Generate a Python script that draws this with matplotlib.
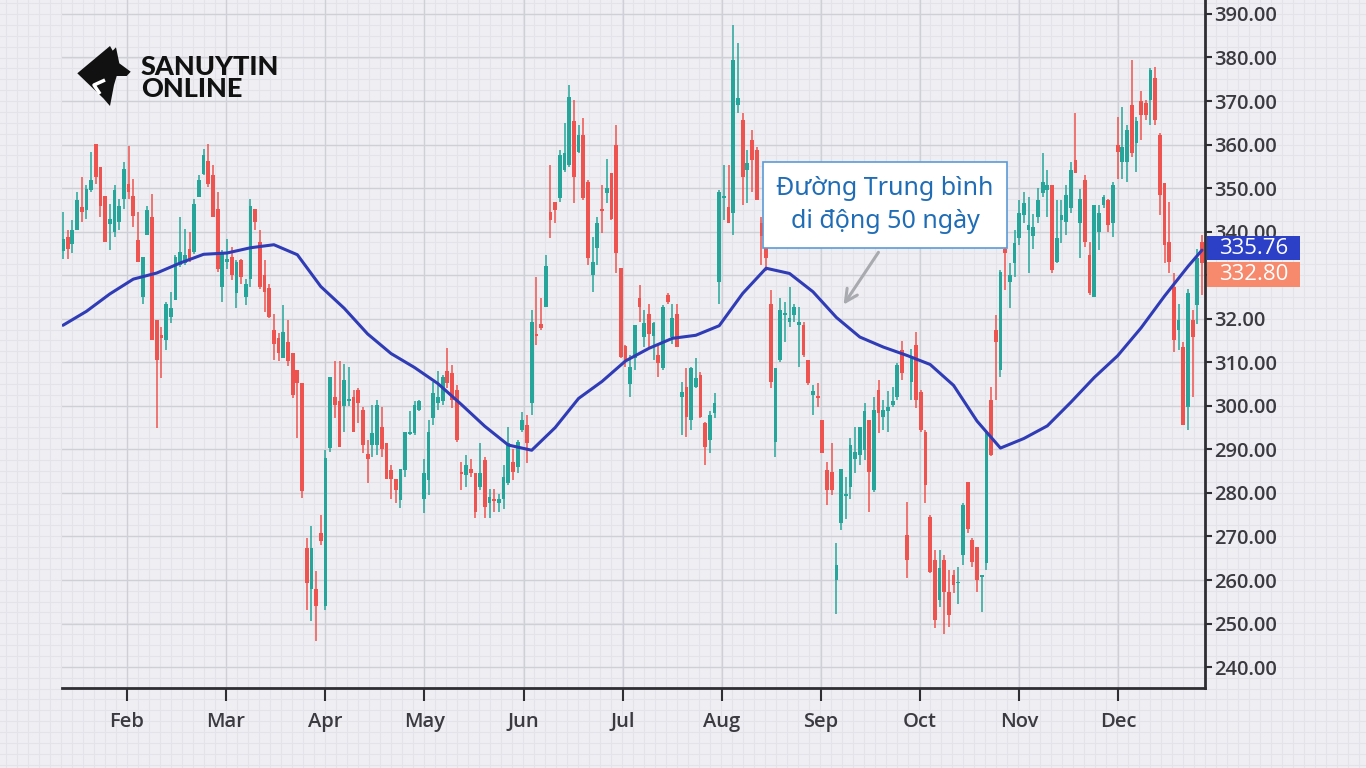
import numpy as np
import matplotlib.pyplot as plt
from matplotlib.patches import Rectangle, Polygon
from matplotlib.transforms import blended_transform_factory

plt.rcParams['font.family'] = ['Open Sans', 'DejaVu Sans']

# ---- data (one candle per trading session) ----
opens = [
    335.6, 338.8, 337.2, 340.3, 345.6, 344.9, 349.5, 360.1, 354.8, 348.3,
    341.8, 340.0, 342.2, 347.6, 351.0, 348.3, 338.0, 325.0, 339.2, 343.4,
    319.7, 316.3, 315.1, 320.5, 324.3, 332.3, 332.7, 336.1, 335.3, 347.9,
    353.3, 356.3, 352.9, 345.3, 327.3, 333.0, 334.2, 325.8, 333.4, 325.0,
    329.2, 345.3, 337.6, 330.0, 327.0, 317.4, 315.5, 310.9, 314.7, 312.1,
    308.2, 305.2, 267.4, 257.9, 257.9, 270.8, 254.0, 290.3, 302.1, 301.0,
    300.0, 301.0, 302.1, 303.6, 299.0, 289.0, 291.0, 291.0, 295.2, 291.4,
    285.2, 283.3, 278.4, 285.2, 293.6, 293.7, 299.0, 278.7, 283.0, 297.1,
    300.6, 301.0, 307.9, 307.5, 303.6, 284.9, 284.1, 285.6, 284.5, 281.4,
    287.5, 277.6, 278.6, 277.6, 278.7, 282.2, 287.2, 286.0, 294.4, 295.6,
    300.6, 316.5, 318.9, 322.8, 344.6, 346.9, 347.7, 354.2, 355.3, 365.3,
    358.4, 362.2, 351.5, 330.0, 336.2, 345.2, 348.8, 353.4, 359.9, 331.6,
    313.7, 305.0, 311.0, 324.7, 315.9, 321.2, 316.0, 311.7, 308.6, 325.5,
    315.9, 321.2, 302.1, 304.4, 296.7, 304.4, 307.1, 296.0, 292.1, 298.3,
    328.5, 347.8, 345.7, 344.2, 369.1, 365.6, 354.2, 361.0, 358.8, 341.9,
    340.0, 323.5, 291.8, 310.5, 320.9, 319.3, 320.9, 318.6, 318.6, 310.5,
    302.5, 302.3, 296.7, 285.3, 284.9, 260.0, 273.0, 279.3, 281.4, 287.9,
    288.7, 289.9, 296.7, 280.7, 303.6, 297.5, 298.7, 300.2, 302.1, 312.8,
    270.3, 305.5, 314.0, 303.2, 294.0, 274.5, 264.6, 255.4, 264.6, 257.3,
    261.1, 259.2, 265.7, 282.6, 269.2, 267.6, 260.7, 263.8, 301.3, 317.4,
    308.2, 336.0, 328.5, 332.7, 338.5, 343.8, 340.4, 339.0, 343.4, 348.8,
    349.6, 350.7, 333.1, 342.7, 342.3, 345.4, 356.5, 341.9, 351.9, 334.6,
    325.1, 340.0, 346.1, 347.3, 341.9, 359.9, 356.1, 356.1, 369.1, 360.3,
    369.9, 369.5, 370.2, 375.2, 362.2, 351.1, 337.7, 327.4, 317.4, 313.6,
    299.8, 319.7, 323.1, 337.7,
]
highs = [
    344.5, 340.3, 342.6, 349.1, 352.5, 350.6, 358.2, 360.1, 354.8, 348.3,
    346.4, 350.6, 347.6, 355.9, 359.7, 352.2, 344.5, 334.2, 346.0, 348.7,
    319.7, 318.2, 323.9, 326.2, 334.6, 343.4, 340.7, 339.9, 347.6, 353.0,
    359.0, 360.1, 355.2, 349.1, 335.7, 338.4, 336.5, 333.4, 333.8, 329.2,
    347.6, 345.3, 340.3, 333.4, 328.0, 321.2, 316.7, 323.1, 319.7, 312.1,
    308.2, 305.2, 269.7, 272.4, 262.1, 275.0, 289.9, 306.7, 310.2, 310.2,
    309.5, 309.0, 303.6, 304.0, 299.8, 292.1, 300.2, 301.3, 299.8, 291.4,
    286.4, 283.3, 285.6, 294.1, 298.7, 301.0, 301.3, 287.9, 296.7, 305.5,
    307.9, 307.1, 313.2, 309.4, 304.8, 287.1, 288.7, 287.9, 284.5, 291.4,
    288.3, 281.0, 281.0, 279.8, 286.4, 295.2, 290.2, 292.1, 298.6, 297.9,
    322.0, 329.7, 324.7, 334.6, 355.3, 346.9, 358.8, 364.9, 373.7, 370.2,
    364.5, 366.0, 351.9, 338.8, 343.4, 350.7, 356.8, 353.4, 364.5, 331.6,
    314.0, 311.7, 318.6, 327.8, 322.0, 323.5, 319.3, 314.0, 323.1, 325.9,
    323.5, 323.5, 305.5, 308.6, 309.0, 310.9, 307.8, 296.4, 298.7, 302.9,
    349.6, 355.3, 355.3, 387.5, 383.3, 367.2, 358.8, 363.3, 359.5, 343.4,
    346.0, 326.6, 308.6, 324.7, 323.9, 327.4, 323.5, 322.8, 319.3, 310.5,
    304.8, 305.2, 296.7, 287.2, 291.4, 268.4, 285.6, 283.7, 292.5, 295.2,
    295.2, 300.6, 296.7, 302.1, 305.9, 301.3, 303.3, 304.4, 309.8, 315.0,
    278.0, 313.0, 317.0, 303.6, 294.4, 274.9, 267.0, 266.8, 265.7, 262.3,
    262.2, 263.0, 277.6, 282.6, 269.6, 267.6, 261.2, 294.4, 304.4, 320.9,
    331.2, 337.3, 332.7, 340.4, 347.3, 349.0, 348.0, 344.0, 350.0, 358.0,
    354.2, 350.7, 347.3, 347.3, 350.7, 356.1, 367.2, 349.9, 353.0, 337.7,
    346.1, 346.1, 348.4, 347.6, 351.5, 366.4, 368.7, 364.5, 379.4, 366.4,
    372.2, 370.2, 377.5, 377.9, 362.6, 351.1, 346.9, 330.4, 323.5, 314.7,
    326.9, 322.0, 336.1, 339.2,
]
lows = [
    333.8, 333.8, 335.0, 340.3, 342.2, 343.0, 349.1, 351.0, 343.4, 337.6,
    335.8, 338.8, 340.3, 345.3, 347.6, 341.0, 333.0, 323.5, 339.2, 315.1,
    294.9, 306.5, 312.8, 319.0, 324.3, 331.9, 332.3, 333.0, 334.9, 347.9,
    352.9, 350.2, 343.4, 330.7, 323.9, 331.5, 328.8, 322.4, 328.0, 323.1,
    327.3, 340.3, 326.9, 321.6, 320.1, 310.5, 310.2, 310.9, 309.1, 301.7,
    292.6, 278.9, 253.2, 250.6, 246.1, 268.1, 253.2, 289.5, 297.1, 290.6,
    294.0, 300.0, 294.1, 296.0, 289.1, 282.2, 288.3, 288.7, 288.3, 283.3,
    278.7, 277.6, 276.5, 283.7, 293.3, 293.3, 298.7, 275.3, 279.5, 295.6,
    299.0, 300.2, 304.0, 299.4, 291.8, 280.7, 281.4, 283.7, 274.2, 280.7,
    274.3, 274.3, 275.6, 275.6, 276.4, 281.8, 283.0, 284.5, 294.0, 286.8,
    297.9, 314.0, 317.4, 322.8, 338.6, 341.9, 346.9, 353.8, 354.9, 346.5,
    358.0, 347.3, 332.3, 326.2, 332.3, 339.6, 346.5, 342.7, 330.4, 310.9,
    309.0, 302.0, 308.3, 319.3, 313.6, 313.6, 310.5, 306.7, 308.3, 323.5,
    314.3, 313.6, 293.3, 292.9, 294.4, 304.0, 297.1, 286.4, 289.1, 297.1,
    323.5, 342.7, 341.9, 339.2, 367.2, 346.1, 346.5, 349.2, 347.3, 332.3,
    331.0, 304.0, 288.3, 310.1, 314.7, 318.2, 319.3, 309.0, 311.3, 304.8,
    297.9, 299.8, 289.1, 277.2, 279.5, 252.3, 271.5, 274.1, 278.7, 284.5,
    286.4, 287.6, 275.7, 280.3, 293.7, 294.4, 294.1, 299.8, 301.3, 306.0,
    260.4, 301.3, 299.4, 294.0, 277.6, 261.5, 249.0, 253.8, 247.7, 249.3,
    257.0, 254.6, 263.4, 270.7, 263.0, 257.3, 252.7, 262.3, 288.4, 301.3,
    306.7, 326.6, 322.4, 329.7, 336.9, 342.0, 330.4, 336.0, 342.0, 348.0,
    343.4, 330.4, 332.7, 337.3, 339.2, 344.2, 353.4, 333.9, 336.5, 325.4,
    325.1, 335.8, 345.4, 340.0, 338.8, 352.2, 352.2, 351.5, 357.2, 353.8,
    361.0, 365.6, 364.5, 364.5, 343.8, 332.7, 330.4, 312.4, 312.8, 295.6,
    294.4, 302.1, 318.9, 325.4,
]
closes = [
    338.3, 336.1, 340.3, 347.2, 344.5, 349.8, 351.8, 352.5, 346.0, 337.6,
    343.0, 349.5, 346.0, 354.4, 349.1, 343.7, 333.0, 334.2, 344.9, 315.1,
    310.5, 315.5, 323.5, 322.4, 334.2, 335.3, 334.6, 333.4, 346.4, 351.8,
    357.5, 351.0, 343.4, 331.5, 335.3, 333.8, 330.0, 333.0, 329.6, 328.0,
    346.0, 342.2, 327.3, 326.2, 320.5, 314.3, 312.1, 317.0, 310.2, 302.5,
    305.2, 280.4, 259.4, 267.4, 254.0, 268.9, 288.0, 306.7, 300.2, 290.6,
    306.0, 301.5, 294.1, 300.6, 291.0, 287.7, 293.7, 300.2, 290.2, 283.3,
    283.3, 280.7, 285.6, 294.1, 293.9, 300.2, 301.0, 284.5, 294.1, 302.9,
    302.1, 306.7, 305.2, 301.3, 292.1, 284.3, 286.4, 284.5, 275.7, 284.5,
    276.8, 279.1, 278.2, 278.7, 283.7, 291.4, 284.9, 291.8, 296.7, 291.4,
    319.3, 316.1, 317.8, 332.0, 342.7, 345.0, 357.6, 358.0, 371.0, 352.6,
    362.2, 347.7, 333.9, 333.1, 341.9, 344.8, 350.0, 343.0, 335.0, 311.3,
    310.5, 309.0, 318.5, 322.8, 319.0, 316.6, 319.0, 309.8, 322.8, 323.9,
    320.1, 313.6, 303.2, 297.5, 308.6, 306.3, 297.5, 290.6, 297.9, 300.6,
    349.2, 348.2, 341.9, 379.4, 370.6, 352.6, 355.7, 356.5, 347.3, 338.9,
    334.0, 305.5, 308.6, 322.0, 321.2, 320.1, 322.8, 319.3, 311.7, 305.2,
    303.3, 301.9, 289.1, 280.7, 280.7, 263.4, 285.6, 279.7, 291.0, 289.5,
    295.2, 298.7, 284.9, 299.0, 298.3, 299.0, 299.8, 301.0, 309.4, 307.5,
    264.6, 310.9, 301.3, 294.4, 281.8, 261.9, 250.8, 262.7, 257.3, 252.0,
    258.8, 259.6, 277.2, 271.8, 264.2, 260.0, 261.0, 294.0, 288.7, 314.7,
    330.8, 335.2, 330.0, 337.3, 344.2, 346.5, 341.5, 341.0, 347.3, 351.5,
    350.7, 331.2, 338.5, 343.8, 348.4, 354.2, 353.4, 347.6, 337.7, 325.8,
    346.1, 344.2, 348.0, 341.5, 350.7, 358.4, 359.5, 363.4, 358.0, 365.3,
    366.8, 366.8, 377.1, 365.6, 348.4, 336.9, 333.1, 315.1, 319.7, 295.6,
    325.8, 315.9, 333.9, 332.8,
]

# 50-day moving average, read at every 5th session (plus the last one)
ma_days = list(range(0, 241, 5)) + [243]
ma_values = [
    318.5, 321.7, 325.7, 329.1, 330.5, 332.8, 334.8, 335.1, 336.3, 337.0,
    334.7, 327.4, 322.4, 316.5, 312.0, 308.8, 305.1, 300.3, 295.3, 291.0,
    289.8, 295.0, 301.7, 305.6, 310.3, 313.2, 315.5, 316.2, 318.4, 325.8,
    331.6, 330.4, 326.2, 320.3, 315.8, 313.5, 311.6, 309.5, 304.7, 296.5,
    290.3, 292.5, 295.4, 300.8, 306.5, 311.5, 317.9, 325.2, 332.0, 335.76,
]

months = ['Feb', 'Mar', 'Apr', 'May', 'Jun', 'Jul', 'Aug', 'Sep', 'Oct', 'Nov', 'Dec']
first_month_pos = 13.65
month_len = 21.15

price_ticks = [240, 250, 260, 270, 280, 290, 300, 310, 320, 330, 340, 350, 360, 370, 380, 390]
# 330.00 sits behind the price tags in the original, so it is left blank
price_labels = ['240.00', '250.00', '260.00', '270.00', '280.00', '290.00', '300.00',
                '310.00', '32.00', '', '340.00', '350.00', '360.00', '370.00',
                '380.00', '390.00']

UP = '#26a69a'
DOWN = '#ef5350'

W, H = 1366, 768
fig = plt.figure(figsize=(13.66, 7.68), dpi=100)
fig.patch.set_facecolor('#efeff3')

# graph paper in the background
bg = fig.add_axes([0, 0, 1, 1], zorder=0)
bg.set_xlim(0, W)
bg.set_ylim(H, 0)
bg.axis('off')
for yy in np.arange(14 - 10.88 * 2, H, 10.88):
    bg.axhline(yy, color='#e3e3e9', lw=0.8)
for xx in np.arange(127 - 11 * 12, W, 11):
    bg.axvline(xx, color='#e3e3e9', lw=0.8)

# main chart
ax = fig.add_axes([62 / W, 1 - 688 / H, (1205 - 62) / W, 688 / H], zorder=1)
ax.patch.set_alpha(0)

o = np.array(opens)
c = np.array(closes)
h = np.maximum(np.array(highs), np.maximum(o, c))
l = np.minimum(np.array(lows), np.minimum(o, c))
x = np.arange(len(o))
cols = np.where(c >= o, UP, DOWN)

ax.vlines(x, l, h, colors=cols, lw=1.1, zorder=3)
ax.bar(x, np.maximum(np.abs(c - o), 0.35), bottom=np.minimum(o, c),
       width=0.8, color=cols, linewidth=0, zorder=4)

ax.plot(ma_days, ma_values, color='#2f3cb6', lw=2.2, zorder=5,
        solid_joinstyle='round', solid_capstyle='round')

ax.set_xlim(-0.21, 243.64)
ax.set_ylim(235.2, 393.2)

ax.yaxis.tick_right()
ax.set_yticks(price_ticks)
ax.set_yticklabels(price_labels)
month_pos = first_month_pos + month_len * np.arange(len(months))
ax.set_xticks(month_pos)
ax.set_xticklabels(months)

ax.tick_params(axis='y', which='major', direction='out', length=5, width=1.5,
               color='#2e2e33', pad=1.5, labelsize=14.5, labelcolor='#3a3a40')
ax.tick_params(axis='x', which='major', direction='out', length=9, width=1.5,
               color='#2e2e33', pad=8, labelsize=14.5, labelcolor='#3a3a40')
for lab in ax.get_xticklabels() + ax.get_yticklabels():
    lab.set_fontweight('semibold')

for side in ['left', 'top']:
    ax.spines[side].set_visible(False)
for side in ['right', 'bottom']:
    ax.spines[side].set_color('#2e2e33')
    ax.spines[side].set_linewidth(2)

ax.grid(True, color='#cfcfd7', lw=1.0, zorder=0)
ax.set_axisbelow(True)

# price tags on the right axis
trans = blended_transform_factory(ax.transAxes, ax.transData)
ma_last = ma_values[-1]
close_last = closes[-1]
tag_x, tag_w = 1.0017, 0.0814
blue_bottom = ma_last - 2.3
ax.add_patch(Rectangle((tag_x, blue_bottom), tag_w, 5.5, transform=trans,
                       clip_on=False, facecolor='#2b40c6', edgecolor='none', zorder=6))
ax.text(tag_x + tag_w / 2, blue_bottom + 2.75, f'{ma_last:.2f}', transform=trans,
        ha='center', va='center', color='white', fontsize=16, zorder=7)
red_top = blue_bottom - 0.4
ax.add_patch(Rectangle((tag_x, red_top - 5.7), tag_w, 5.7, transform=trans,
                       clip_on=False, facecolor='#f7896c', edgecolor='none', zorder=6))
ax.text(tag_x + tag_w / 2, red_top - 2.85, f'{close_last:.2f}', transform=trans,
        ha='center', va='center', color='white', fontsize=16, zorder=7)

# overlay: annotation and logo (pixel coordinates)
fg = fig.add_axes([0, 0, 1, 1], zorder=2)
fg.set_xlim(0, W)
fg.set_ylim(H, 0)
fg.axis('off')

fg.annotate('', xy=(842, 307), xytext=(880, 250),
            arrowprops=dict(arrowstyle='->', color='#a9a9b0', lw=2.2, mutation_scale=22))
fg.text(885, 205, 'Đường Trung bình\ndi động 50 ngày', ha='center', va='center',
        fontsize=18, color='#1f6db6', linespacing=1.4, family=['Noto Sans', 'DejaVu Sans'],
        bbox=dict(boxstyle='square,pad=0.55', fc='white', ec='#5b9bd5', lw=1.2))

logo = [(77.3, 73.3), (110.0, 46.0), (112.7, 50.7), (116.0, 47.3), (119.3, 63.3),
        (130.7, 71.7), (126.7, 76.0), (116.7, 76.0), (114.0, 85.0), (110.0, 106.0),
        (103.3, 98.3)]
fg.add_patch(Polygon(logo, closed=True, facecolor='#111111', edgecolor='none'))
fg.plot([100, 94, 105], [94, 85, 80], color='white', lw=2.5, solid_capstyle='butt')
fg.text(141, 75, 'SANUYTIN', fontsize=19.5, fontweight='black', family=['Lato', 'DejaVu Sans'],
        color='#111111', va='baseline')
fg.text(141, 97, 'ONLINE', fontsize=19.5, fontweight='black', family=['Lato', 'DejaVu Sans'],
        color='#111111', va='baseline')

fig.savefig('out.png', dpi=100, facecolor=fig.get_facecolor())
